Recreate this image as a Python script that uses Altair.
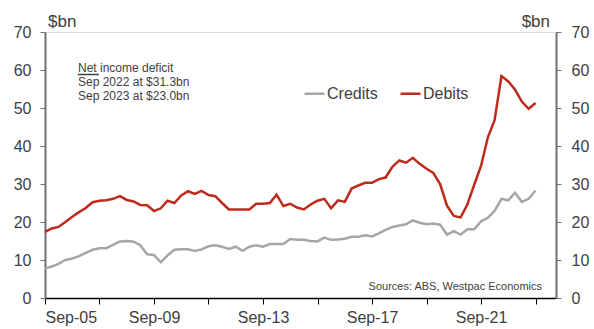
import altair as alt
import pandas as pd

# Quarterly, Sep-05 .. Sep-23
quarters = pd.date_range("2005-09-01", periods=73, freq="3MS")

credits = [7.8, 8.3, 9.0, 10.0, 10.4, 11.0, 11.9, 12.7, 13.1, 13.1,
           14.0, 14.9, 15.0, 14.8, 13.9, 11.5, 11.3, 9.4, 11.2, 12.7,
           12.8, 12.8, 12.4, 12.8, 13.6, 13.9, 13.5, 12.9, 13.5, 12.4,
           13.5, 13.9, 13.5, 14.2, 14.2, 14.2, 15.5, 15.3, 15.3, 15.0,
           14.9, 15.9, 15.3, 15.4, 15.6, 16.1, 16.1, 16.5, 16.2, 17.0,
           17.9, 18.7, 19.1, 19.4, 20.4, 19.8, 19.4, 19.6, 19.3, 16.7,
           17.6, 16.7, 18.1, 18.1, 20.2, 21.1, 22.9, 26.1, 25.7, 27.7,
           25.3, 26.1, 28.3]

debits = [17.4, 18.3, 18.7, 20.0, 21.4, 22.6, 23.7, 25.2, 25.6, 25.7,
          26.1, 26.8, 25.8, 25.4, 24.5, 24.4, 22.9, 23.6, 25.6, 25.0,
          27.0, 28.1, 27.4, 28.2, 27.1, 26.8, 25.0, 23.3, 23.3, 23.3,
          23.3, 24.8, 24.8, 25.0, 27.2, 24.2, 24.8, 23.8, 23.3, 24.6,
          25.6, 26.1, 23.6, 25.7, 25.3, 28.8, 29.6, 30.3, 30.3, 31.3,
          31.7, 34.5, 36.2, 35.6, 36.9, 35.3, 34.0, 32.9, 30.0, 24.3,
          21.6, 21.2, 24.6, 29.8, 34.8, 42.3, 46.8, 58.4, 57.0, 54.8,
          51.7, 49.8, 51.3]

series_names = ["Credits", "Debits"]
series_colors = ["#A6A6A6", "#BE2A1E"]
y_ticks = [0, 10, 20, 30, 40, 50, 60, 70]
tick_years = list(range(2005, 2024, 2))
note_lines = ["Net income deficit", "Sep 2022 at $31.3bn", "Sep 2023 at $23.0bn"]
source_text = "Sources: ABS, Westpac Economics"
unit_label = "$bn"

df = pd.DataFrame({
    "date": list(quarters) * 2,
    "value": credits + debits,
    "series": ["Credits"] * len(credits) + ["Debits"] * len(debits),
})

FONT = "Liberation Sans"
TXT = "#404040"

x_enc = alt.X(
    "date:T",
    scale=alt.Scale(domain=[alt.DateTime(year=2005, month=9, date=1),
                            alt.DateTime(year=2024, month=6, date=1)]),
    axis=alt.Axis(
        values=[alt.DateTime(year=y, month=9, date=1) for y in tick_years],
        labelExpr="(year(datum.value) - 2005) % 4 == 0 ? timeFormat(datum.value, '%b-%y') : ''",
        title=None, grid=False, domainColor="#000000", domainWidth=1.5,
        tickColor="#000000", tickSize=6, tickWidth=1, labelFontSize=16,
        labelColor=TXT, labelPadding=5, labelFont=FONT, labelOverlap=False,
    ),
)

y_scale = alt.Scale(domain=[0, 70], nice=False)

lines = alt.Chart(df).mark_line(strokeWidth=2.5).encode(
    x=x_enc,
    y=alt.Y("value:Q", scale=y_scale,
            axis=alt.Axis(values=y_ticks, title=None, grid=False,
                          domainColor="#707070", domainWidth=2,
                          tickColor="#707070", tickSize=5, tickWidth=1,
                          labelFontSize=16, labelColor=TXT, labelPadding=9,
                          labelFont=FONT)),
    color=alt.Color("series:N",
                    scale=alt.Scale(domain=series_names, range=series_colors),
                    legend=alt.Legend(orient="none", legendX=258, legendY=50,
                                      direction="horizontal", title=None,
                                      symbolType="stroke", symbolStrokeWidth=2.5,
                                      symbolSize=400, labelFontSize=16,
                                      labelColor=TXT, labelFont=FONT,
                                      labelOffset=1, columnPadding=17)),
)

right_axis = alt.Chart(df).mark_line(opacity=0).encode(
    x=x_enc,
    y=alt.Y("value:Q", scale=y_scale,
            axis=alt.Axis(values=y_ticks, orient="right", title=None, grid=False,
                          domainColor="#707070", domainWidth=2,
                          tickColor="#707070", tickSize=5, tickWidth=1,
                          labelFontSize=16, labelColor=TXT, labelPadding=10,
                          labelFont=FONT)),
    detail="series:N",
)

note_layers = []
for k, line in enumerate(note_lines):
    note_layers.append(
        alt.Chart(pd.DataFrame({"text": [line]})).mark_text(
            align="left", baseline="alphabetic", fontSize=12, font=FONT, color=TXT
        ).encode(x=alt.value(33), y=alt.value(40 + 14 * k), text="text:N")
    )

underline = alt.Chart(pd.DataFrame({"text": [note_lines[0]]})).mark_rule(
    color=TXT, strokeWidth=1.5
).encode(x=alt.value(33), x2=alt.value(54), y=alt.value(42.5))

unit_df = pd.DataFrame({"text": [unit_label]})
unit_left = alt.Chart(unit_df).mark_text(
    align="left", baseline="alphabetic", fontSize=17, font=FONT, color=TXT
).encode(x=alt.value(3), y=alt.value(-5), text="text:N")
unit_right = alt.Chart(unit_df).mark_text(
    align="right", baseline="alphabetic", fontSize=17, font=FONT, color=TXT
).encode(x=alt.value(505), y=alt.value(-5), text="text:N")

src_df = pd.DataFrame({"text": [source_text]})
src = alt.Chart(src_df).mark_text(
    align="right", baseline="alphabetic", fontSize=11, font=FONT, color=TXT
).encode(x=alt.value(497), y=alt.value(258), text="text:N")

chart = alt.layer(
    lines, right_axis, *note_layers, underline, unit_left, unit_right, src
).resolve_scale(y="independent").properties(
    width=511, height=266,
    autosize=alt.AutoSizeParams(type="none"),
    padding={"left": 45, "top": 32, "right": 38, "bottom": 31},
    background="white",
).configure_view(stroke="#7F7F7F", strokeWidth=1).configure(font=FONT)

chart.save("out.html", embed_options={"renderer": "svg", "actions": False})
